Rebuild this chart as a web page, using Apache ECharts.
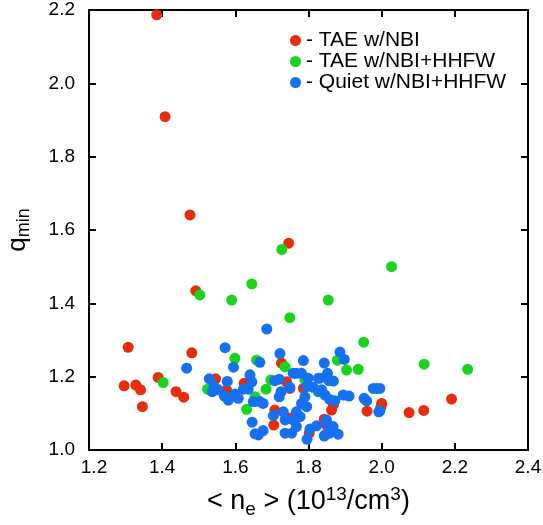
<!DOCTYPE html>
<html>
<head>
<meta charset="utf-8">
<script src="https://cdn.jsdelivr.net/npm/echarts@6/dist/echarts.min.js"></script>
<style>
html,body{margin:0;padding:0;background:#fff;}
#chart{width:543px;height:525px;}
</style>
</head>
<body>
<div id="chart"></div>
<script>
// Series names (legend)
const seriesNames = ['- TAE w/NBI', '- TAE w/NBI+HHFW', '- Quiet w/NBI+HHFW'];

// Axis ticks
const xTicks = [1.2, 1.4, 1.6, 1.8, 2.0, 2.2, 2.4];
const yTicks = [1.0, 1.2, 1.4, 1.6, 1.8, 2.0, 2.2];

// TAE w/NBI  [<ne>, qmin]
const taeNbi = [
  [1.385, 2.187], [1.408, 1.909], [1.476, 1.641], [1.746, 1.564], [1.492, 1.434],
  [1.307, 1.280], [1.481, 1.265], [1.296, 1.175], [1.328, 1.177], [1.341, 1.164],
  [1.389, 1.198], [1.438, 1.159], [1.459, 1.144], [1.346, 1.118], [1.546, 1.194],
  [1.576, 1.164], [1.624, 1.182], [1.726, 1.237], [1.740, 1.186], [1.749, 1.168],
  [1.786, 1.168], [1.708, 1.109], [1.705, 1.068], [1.749, 1.087], [1.802, 1.046],
  [1.863, 1.109], [1.868, 1.123], [1.843, 1.084], [1.849, 1.068], [1.960, 1.106],
  [2.000, 1.127], [1.998, 1.117], [2.075, 1.102], [2.115, 1.108], [2.191, 1.139]
];

// TAE w/NBI+HHFW
const taeNbiHhfw = [
  [1.727, 1.547], [2.027, 1.500], [1.503, 1.423], [1.645, 1.453], [1.590, 1.409],
  [1.749, 1.361], [1.854, 1.409], [1.403, 1.184], [1.599, 1.250], [1.658, 1.245],
  [1.736, 1.227], [1.524, 1.166], [1.631, 1.111], [1.652, 1.132], [1.684, 1.166],
  [1.697, 1.191], [1.790, 1.191], [1.879, 1.245], [1.904, 1.218], [1.936, 1.220],
  [1.951, 1.294], [2.116, 1.234], [2.235, 1.220], [1.654, 1.145]
];

// Quiet w/NBI+HHFW
const quietNbiHhfw = [
  [1.572, 1.279], [1.467, 1.223], [1.595, 1.226], [1.529, 1.194], [1.578, 1.187],
  [1.542, 1.173], [1.537, 1.159], [1.553, 1.164], [1.570, 1.147], [1.581, 1.136],
  [1.599, 1.153], [1.608, 1.141], [1.622, 1.166], [1.635, 1.166], [1.640, 1.205],
  [1.645, 1.186], [1.646, 1.076], [1.654, 1.044], [1.686, 1.330], [1.722, 1.263],
  [1.667, 1.239], [1.786, 1.244], [1.766, 1.209], [1.781, 1.209], [1.799, 1.196],
  [1.720, 1.193], [1.708, 1.189], [1.749, 1.171], [1.725, 1.159], [1.720, 1.145],
  [1.795, 1.173], [1.813, 1.171], [1.827, 1.196], [1.790, 1.145], [1.781, 1.127],
  [1.795, 1.118], [1.667, 1.132], [1.676, 1.127], [1.649, 1.132], [1.767, 1.104],
  [1.777, 1.091], [1.731, 1.104], [1.704, 1.094], [1.736, 1.082], [1.758, 1.082],
  [1.676, 1.053], [1.663, 1.041], [1.736, 1.046], [1.754, 1.046], [1.767, 1.064],
  [1.804, 1.057], [1.796, 1.029], [1.822, 1.066], [1.886, 1.267], [1.898, 1.247],
  [1.843, 1.237], [1.852, 1.209], [1.831, 1.196], [1.856, 1.189], [1.836, 1.164],
  [1.845, 1.150], [1.858, 1.138], [1.872, 1.134], [1.895, 1.150], [1.911, 1.147],
  [1.952, 1.141], [1.959, 1.134], [1.977, 1.168], [1.986, 1.168], [1.992, 1.104],
  [1.849, 1.082], [1.854, 1.068], [1.867, 1.064], [1.845, 1.041], [1.858, 1.046],
  [1.881, 1.043], [1.827, 1.159], [1.995, 1.168], [1.995, 1.107], [1.758, 1.209],
  [1.843, 1.038], [1.868, 1.188]
];

const colors = ['#e62e0c', '#17d41c', '#1670f2'];
const FONT = '"Liberation Sans", Arial, Helvetica, sans-serif';

const chart = echarts.init(document.getElementById('chart'), null, {renderer: 'canvas'});

const axisLineStyle = {color: '#000', width: 2};
const tickStyle = {show: true, inside: true, length: 7, lineStyle: {color: '#000', width: 2}};

function mkX(pos, showLabels, withName) {
  const a = {
    type: 'value', position: pos, min: xTicks[0], max: xTicks[xTicks.length - 1], interval: 0.2,
    axisLine: {show: true, onZero: false, lineStyle: axisLineStyle},
    axisTick: tickStyle,
    splitLine: {show: false},
    axisLabel: {
      show: showLabels, color: '#000', fontSize: 19, fontFamily: FONT, margin: 8,
      formatter: v => (Math.abs(v - xTicks[0]) < 1e-9 ? '{f|' + Number(v).toFixed(1) + '}' : Number(v).toFixed(1)),
      rich: {f: {fontSize: 19, fontFamily: FONT, color: '#000', padding: [0, 0, 0, 10]}}
    }
  };
  if (withName) {
    a.name = '{a|< n}{sub|e}{a| > (10}{sup|13}{a|/cm}{sup|3}{a|)}';
    a.nameLocation = 'middle';
    a.nameGap = 35;
    a.nameTextStyle = {
      color: '#000', fontFamily: FONT,
      rich: {
        a: {fontSize: 27, fontFamily: FONT, color: '#000', lineHeight: 34, verticalAlign: 'middle'},
        sub: {fontSize: 19, fontFamily: FONT, color: '#000', lineHeight: 16, verticalAlign: 'bottom'},
        sup: {fontSize: 19, fontFamily: FONT, color: '#000', lineHeight: 16, verticalAlign: 'top'}
      }
    };
  }
  return a;
}
function mkY(pos, showLabels, withName) {
  const a = {
    type: 'value', position: pos, min: yTicks[0], max: yTicks[yTicks.length - 1], interval: 0.2,
    axisLine: {show: true, onZero: false, lineStyle: axisLineStyle},
    axisTick: tickStyle,
    splitLine: {show: false},
    axisLabel: {show: showLabels, formatter: v => Number(v).toFixed(1), color: '#000', fontSize: 19, fontFamily: FONT, margin: 14}
  };
  if (withName) {
    a.name = '{a|q}{sub|min}';
    a.nameLocation = 'middle';
    a.nameGap = 56;
    a.nameRotate = 90;
    a.nameTextStyle = {
      color: '#000', fontFamily: FONT,
      rich: {
        a: {fontSize: 26, fontFamily: FONT, color: '#000', lineHeight: 30, verticalAlign: 'middle'},
        sub: {fontSize: 18, fontFamily: FONT, color: '#000', lineHeight: 14, verticalAlign: 'bottom'}
      }
    };
  }
  return a;
}

const datasets = [taeNbi, taeNbiHhfw, quietNbiHhfw];

chart.setOption({
  backgroundColor: '#fff',
  animation: false,
  grid: {left: 89, right: 15, top: 10, bottom: 75, containLabel: false, outerBoundsMode: 'none'},
  legend: {
    orient: 'vertical', left: 290, top: 30, padding: 0,
    icon: 'circle', itemWidth: 11, itemHeight: 11, itemGap: 0, itemTextGap: 6,
    textStyle: {fontSize: 21, fontFamily: FONT, color: '#000', lineHeight: 20},
    data: seriesNames
  },
  xAxis: [mkX('bottom', true, true), mkX('top', false, false)],
  yAxis: [mkY('left', true, true), mkY('right', false, false)],
  series: seriesNames.map((n, i) => ({
    name: n, type: 'scatter', xAxisIndex: 0, yAxisIndex: 0,
    symbol: 'circle', symbolSize: 11,
    itemStyle: {color: colors[i], opacity: 1},
    data: datasets[i]
  }))
});
</script>
</body>
</html>
